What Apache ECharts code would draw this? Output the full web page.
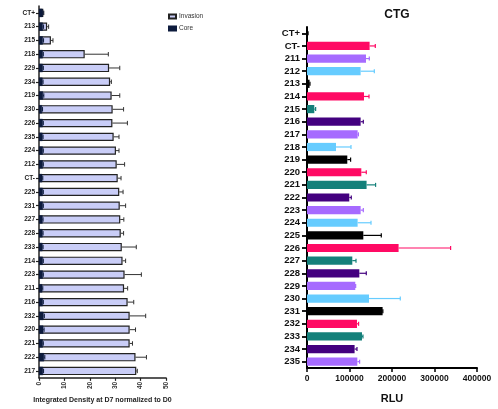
<!DOCTYPE html>
<html>
<head>
<meta charset="utf-8">
<script src="https://cdn.jsdelivr.net/npm/echarts@6/dist/echarts.min.js"></script>
<style>
  html, body { margin: 0; padding: 0; background: #fff; }
  #chart { width: 498px; height: 409px; }
</style>
</head>
<body>
<div id="chart"></div>
<script>
// left panel: invasion assay, sorted
const leftCats = ['CT+', '213', '215', '218', '229', '234', '219', '230', '226', '235', '224', '212', 'CT-', '225',
  '231', '227', '228', '233', '214', '223', '211', '216', '232', '220', '221', '222', '217'];
const invasion = [1.7, 3.2, 4.7, 18, 27.6, 28, 28.6, 29, 28.9, 29.4, 30.3, 30.6, 31, 31.6,
  31.8, 32, 32.2, 32.6, 32.9, 33.7, 33.5, 34.9, 35.7, 35.7, 35.7, 38, 38.3];
const invasionSd = [0.2, 0.6, 0.8, 9.3, 4.2, 0.5, 3.2, 4.3, 5.9, 2.1, 1.2, 3.1, 1.3, 1.5,
  2.3, 1.4, 1.1, 5.7, 1.2, 6.6, 1.4, 2.4, 6.3, 2.3, 1.1, 4.3, 0.4];
const core = [1.4, 1.5, 1.5, 1.5, 1.5, 1.4, 1.6, 1.2, 1.5, 1.4, 1.5, 1.5, 1.3, 1.5,
  1.5, 1.4, 1.4, 1.4, 1.5, 1.5, 1.3, 1.5, 1.8, 1.7, 1.5, 2.0, 1.6];
const coreSd = [0.2, 0.3, 0.3, 0.2, 0.2, 0.2, 0.3, 0.2, 0.2, 0.2, 0.2, 0.2, 0.2, 0.2,
  0.2, 0.2, 0.2, 0.2, 0.2, 0.2, 0.2, 0.2, 0.3, 0.3, 0.2, 0.3, 0.2];

// right panel: CTG
const rightCats = ['CT+', 'CT-', '211', '212', '213', '214', '215', '216', '217', '218', '219', '220', '221', '222',
  '223', '224', '225', '226', '227', '228', '229', '230', '231', '232', '233', '234', '235'];
const rlu = [2000, 147300, 138800, 126200, 6000, 134100, 17200, 126200, 119100, 68200, 94800, 127800, 140200, 99500,
  126200, 119100, 132500, 215500, 106600, 123100, 113600, 145900, 177900, 117600, 129400, 112000, 118400];
const rluSd = [500, 13400, 7800, 32200, 1000, 11800, 3100, 6300, 1900, 35300, 7800, 11700, 21200, 4700,
  6300, 31500, 42300, 122400, 8700, 16400, 900, 73600, 600, 3800, 2300, 5600, 5400];

// bar colours of the CTG panel
const PINK = '#ff0a64', LAV = '#a66bff', LBLUE = '#66ccff', BLK = '#000000', TEAL = '#14807a', DPUR = '#43007f';
const rightColors = [BLK, PINK, LAV, LBLUE, BLK, PINK, TEAL, DPUR, LAV, LBLUE, BLK, PINK, TEAL, DPUR,
  LAV, LBLUE, BLK, PINK, TEAL, DPUR, LAV, LBLUE, BLK, PINK, TEAL, DPUR, LAV];

const FONT = '"Liberation Sans", Arial, sans-serif';

function errData(mean, sd) {
  return mean.map((m, i) => [m + sd[i], i, m]);
}

function errRender(colorOf, lw) {
  return function (params, api) {
    const idx = api.value(1);
    const p0 = api.coord([api.value(2), idx]);
    const p1 = api.coord([api.value(0), idx]);
    const h = api.size([0, 1])[1] * 0.32;
    const c = colorOf(params.dataIndex);
    return {
      type: 'group',
      children: [
        { type: 'line', shape: { x1: p0[0], y1: p0[1], x2: p1[0], y2: p1[1] }, style: { stroke: c, lineWidth: lw } },
        { type: 'line', shape: { x1: p1[0], y1: p1[1] - h / 2, x2: p1[0], y2: p1[1] + h / 2 }, style: { stroke: c, lineWidth: lw } }
      ]
    };
  };
}

const chart = echarts.init(document.getElementById('chart'));

chart.setOption({
  animation: false,
  backgroundColor: '#fff',
  title: {
    text: 'CTG', left: 392, top: 4, textAlign: 'center',
    textStyle: { fontFamily: FONT, fontSize: 12, fontWeight: 'bold', color: '#111' }
  },
  legend: {
    data: ['Invasion', 'Core'],
    orient: 'vertical', left: 163, top: 8, itemWidth: 7, itemHeight: 4, itemGap: 5, icon: 'rect',
    textStyle: { fontFamily: FONT, fontSize: 6.5, color: '#333', padding: [0, 0, 0, -2] }
  },
  grid: [
    { left: 39, width: 127, top: 6, height: 380 },
    { left: 307, width: 170, top: 27, height: 344 }
  ],
  xAxis: [
    {
      gridIndex: 0, type: 'value', min: 0, max: 50, interval: 10,
      splitLine: { show: false },
      axisLine: { show: true, lineStyle: { color: '#222', width: 1.5 } },
      axisTick: { show: true, length: 3, lineStyle: { color: '#222', width: 1.2 } },
      axisLabel: { rotate: 90, fontFamily: FONT, fontSize: 6.5, fontWeight: 'bold', color: '#333', margin: 4 },
      name: 'Integrated Density at D7 normalized to D0', nameLocation: 'middle', nameGap: 18,
      nameTextStyle: { fontFamily: FONT, fontSize: 7, fontWeight: 'bold', color: '#222' }
    },
    {
      gridIndex: 1, type: 'value', min: 0, max: 400000, interval: 100000,
      splitLine: { show: false },
      axisLine: { show: true, lineStyle: { color: '#000', width: 2 } },
      axisTick: { show: true, length: 4, lineStyle: { color: '#000', width: 1.5 } },
      axisLabel: {
        fontFamily: FONT, fontSize: 8.5, fontWeight: 'bold', color: '#111', margin: 6, hideOverlap: false,
        formatter: v => String(v)
      },
      name: 'RLU', nameLocation: 'middle', nameGap: 25,
      nameTextStyle: { fontFamily: FONT, fontSize: 11, fontWeight: 'bold', color: '#111' }
    }
  ],
  yAxis: [
    {
      gridIndex: 0, type: 'category', data: leftCats, inverse: true,
      axisLine: { show: true, lineStyle: { color: '#222', width: 1.5 } },
      axisTick: { show: true, alignWithLabel: true, length: 3, lineStyle: { color: '#222', width: 1.2 } },
      axisLabel: { interval: 0, fontFamily: FONT, fontSize: 6.5, fontWeight: 'bold', color: '#222', margin: 4 }
    },
    {
      gridIndex: 1, type: 'category', data: rightCats, inverse: true,
      axisLine: { show: true, lineStyle: { color: '#000', width: 2 } },
      axisTick: { show: true, alignWithLabel: true, interval: 0, length: 5, lineStyle: { color: '#000', width: 1.8 } },
      axisLabel: { interval: 0, fontFamily: FONT, fontSize: 9.5, fontWeight: 'bold', color: '#111', margin: 7 }
    }
  ],
  series: [
    {
      name: 'Invasion', type: 'bar', xAxisIndex: 0, yAxisIndex: 0, data: invasion,
      barWidth: '60%', barGap: '-100%',
      itemStyle: { color: '#c9cdf7', borderColor: '#222', borderWidth: 1.2 }
    },
    {
      name: 'Core', type: 'bar', xAxisIndex: 0, yAxisIndex: 0, data: core,
      barWidth: '60%', barGap: '-100%',
      itemStyle: { color: '#0d1b3d', borderColor: '#0d1b3d', borderWidth: 0.5 }
    },
    {
      type: 'custom', xAxisIndex: 0, yAxisIndex: 0, data: errData(invasion, invasionSd),
      encode: { x: [0, 2], y: 1 }, z: 1, silent: true,
      renderItem: errRender(() => '#333', 1)
    },
    {
      type: 'custom', xAxisIndex: 0, yAxisIndex: 0, data: errData(core, coreSd),
      encode: { x: [0, 2], y: 1 }, z: 3, silent: true,
      renderItem: errRender(() => '#0d1b3d', 1)
    },
    {
      type: 'bar', xAxisIndex: 1, yAxisIndex: 1, data: rlu, barWidth: '65%',
      itemStyle: { color: p => rightColors[p.dataIndex] }
    },
    {
      type: 'custom', xAxisIndex: 1, yAxisIndex: 1, data: errData(rlu, rluSd),
      encode: { x: [0, 2], y: 1 }, z: 1, silent: true,
      renderItem: errRender(i => rightColors[i], 1.2)
    }
  ]
});
</script>
</body>
</html>
